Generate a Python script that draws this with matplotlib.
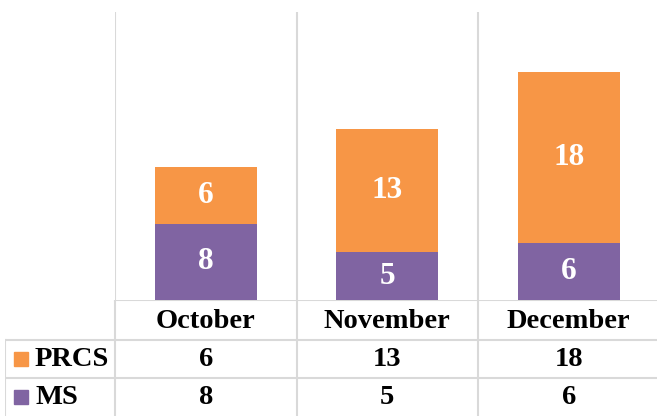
import matplotlib.pyplot as plt
import numpy as np

months = ["October", "November", "December"]
series = ["PRCS", "MS"]
prcs = [6, 13, 18]
ms = [8, 5, 6]
colors = {"PRCS": "#F79646", "MS": "#8064A2"}

plt.rcParams['font.family'] = ['Liberation Serif', 'DejaVu Serif']
plt.rcParams['font.weight'] = 'bold'

W, H = 657, 416
fig = plt.figure(figsize=(W / 100, H / 100), dpi=100)
grid = "#d9d9d9"

# main bar area (pixel layout from the reference)
col_w = 181.5
ax = fig.add_axes([115 / W, (H - 300) / H, 3 * col_w / W, 288 / H])
x = np.arange(len(months))
b1 = ax.bar(x, ms, width=0.56, color=colors["MS"], zorder=2)
b2 = ax.bar(x, prcs, width=0.56, bottom=ms, color=colors["PRCS"], zorder=2)
ax.bar_label(b1, label_type='center', color='white', fontsize=22.5, fontweight='bold')
ax.bar_label(b2, label_type='center', color='white', fontsize=22.5, fontweight='bold')
ax.set_xlim(-0.5, 2.5)
ax.set_ylim(0, 30.3)
for xv in [-0.5, 0.5, 1.5]:
    ax.axvline(xv, color=grid, lw=1.5, zorder=1)
for s in ax.spines.values():
    s.set_visible(False)
ax.set_xticks([])
ax.set_yticks([])

# data table below the chart
lab_w = 110 / col_w
tax = fig.add_axes([5 / W, 0, (110 + 3 * col_w) / W, 116 / H])
tax.set_xlim(-0.5 - lab_w, 2.5)
tax.set_ylim(0, 116)
tax.axis('off')
tax.plot([-0.5, 2.5], [116, 116], color=grid, lw=1.5)
for yv in [76, 38]:
    tax.plot([-0.5 - lab_w, 2.5], [yv, yv], color=grid, lw=1.5)
tax.plot([-0.5 - lab_w, -0.5 - lab_w], [0, 76], color=grid, lw=1.5)
for xv in [-0.5, 0.5, 1.5]:
    tax.plot([xv, xv], [0, 116], color=grid, lw=1.5)

for i, m in enumerate(months):
    tax.text(i, 95, m, ha='center', va='center', fontsize=20.5, fontweight='bold')

rows = [("PRCS", prcs, 57), ("MS", ms, 19)]
for name, vals, yc in rows:
    tax.plot(-0.5 - lab_w + 16 / col_w, yc, marker='s', ms=10, color=colors[name],
             clip_on=False)
    tax.text(-0.5 - lab_w + 30 / col_w, yc, name, ha='left', va='center',
             fontsize=20.5, fontweight='bold')
    for i, v in enumerate(vals):
        tax.text(i, yc, str(v), ha='center', va='center', fontsize=20.5,
                 fontweight='bold')

fig.savefig("out.png", dpi=100)
